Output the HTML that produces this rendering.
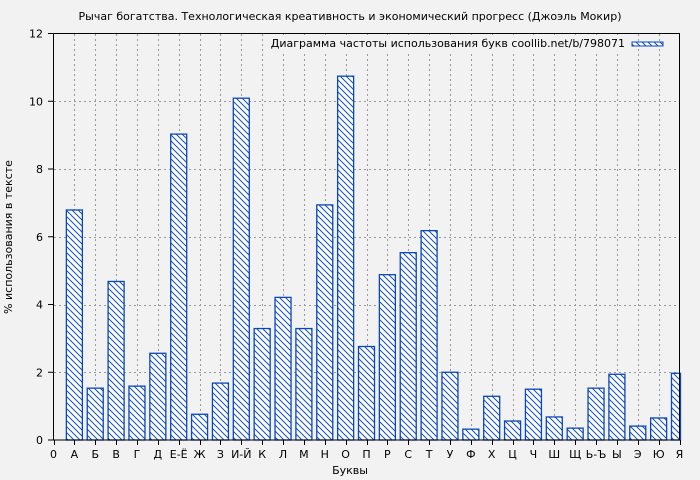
<!DOCTYPE html>
<html><head><meta charset="utf-8"><style>body{margin:0;background:#f2f2f2}svg{display:block}text{font-family:"DejaVu Sans","Liberation Sans",sans-serif;font-size:11px;fill:#000}</style></head><body>
<svg width="700" height="480" viewBox="0 0 700 480" xmlns="http://www.w3.org/2000/svg">
<defs><pattern id="h" patternUnits="userSpaceOnUse" width="6" height="6"><rect width="6" height="6" fill="#fff"/><path d="M-1,-1 L7,7 M-1,5 L1,7 M5,-1 L7,1" stroke="#1450c0" stroke-width="1"/></pattern></defs>
<rect width="700" height="480" fill="#f2f2f2"/>
<text x="350" y="20" text-anchor="middle">Рычаг богатства. Технологическая креативность и экономический прогресс (Джоэль Мокир)</text>
<g id="g" stroke="#999" stroke-dasharray="2,3" stroke-width="1"></g>
<g id="bars" fill="url(#h)" stroke="#0a47b8" stroke-width="1.3"></g>
<rect x="53.5" y="33.5" width="626" height="406.5" fill="none" stroke="#000" stroke-width="1"/>
<g id="t" stroke="#000"></g>
<g id="lx" text-anchor="middle"></g>
<g id="ly" text-anchor="end"></g>
<rect x="280" y="35" width="356" height="16" fill="#f2f2f2"/>
<text x="625" y="47" text-anchor="end">Диаграмма частоты использования букв coollib.net/b/798071</text>
<rect x="632" y="42" width="31" height="4" fill="url(#h)" stroke="#0a47b8"/>
<text x="350" y="474" text-anchor="middle">Буквы</text>
<text x="12" y="237" text-anchor="middle" transform="rotate(-90 12 237)">% использования в тексте</text>
</svg>
<script>
var ns="http://www.w3.org/2000/svg";
function el(p,t,a,txt){var e=document.createElementNS(ns,t);for(var k in a)e.setAttribute(k,a[k]);if(txt)e.textContent=txt;document.getElementById(p).appendChild(e);}
var L=["0","А","Б","В","Г","Д","Е-Ё","Ж","З","И-Й","К","Л","М","Н","О","П","Р","С","Т","У","Ф","Х","Ц","Ч","Ш","Щ","Ь-Ъ","Ы","Э","Ю","Я"];
var V=[0,6.79,1.53,4.68,1.59,2.56,9.03,0.76,1.68,10.09,3.29,4.21,3.29,6.94,10.74,2.76,4.88,5.53,6.18,2.0,0.32,1.29,0.56,1.5,0.68,0.35,1.53,1.94,0.41,0.65,1.97];
var x0=53.5,st=626/30,y0=440,u=406.5/12;
for(var i=1;i<30;i++){var x=Math.round(x0+st*i)+0.5;el("g","line",{x1:x,x2:x,y1:34,y2:440});}
for(var j=2;j<12;j+=2){var y=Math.round(y0-u*j)+0.5;el("g","line",{x1:54,x2:679,y1:y,y2:y});}
for(var i=1;i<31;i++){var cx=x0+st*i,h=V[i]*u,w=16,l=cx-8;if(i==30){w=9;}el("bars","rect",{x:l,y:y0-h,width:w,height:h});}
for(var i=0;i<31;i++){var x=Math.round(x0+st*i)+0.5;el("t","line",{x1:x,x2:x,y1:440,y2:445});el("lx","text",{x:x0+st*i,y:458},L[i]);}
for(var j=0;j<=12;j+=2){var y=y0-u*j;el("t","line",{x1:48,x2:53,y1:y,y2:y});el("ly","text",{x:43,y:y+4},String(j));}
</script>
</body></html>
